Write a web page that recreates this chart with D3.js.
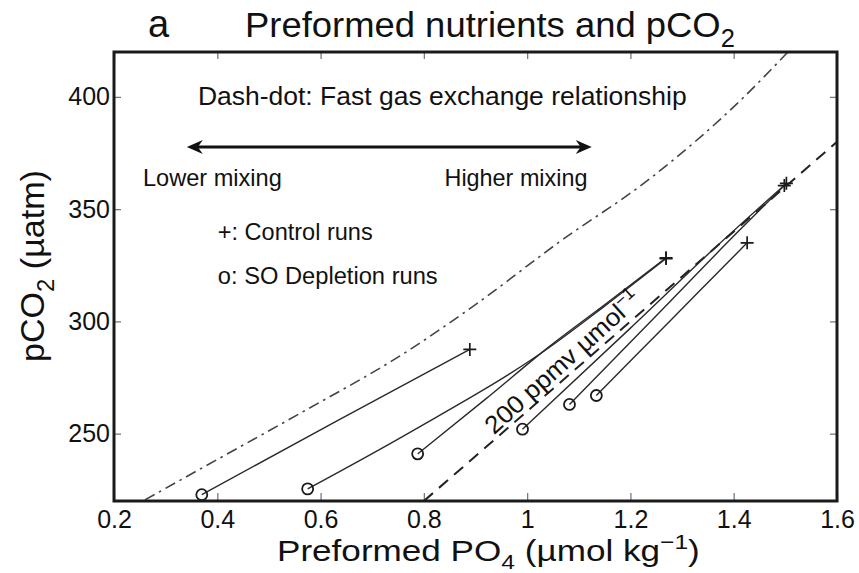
<!DOCTYPE html>
<html>
<head>
<meta charset="utf-8">
<script src="https://cdn.jsdelivr.net/npm/d3@7"></script>
<style>
  body { margin: 0; background: #fff; }
  svg { display: block; }
  text { font-family: "Liberation Sans", Arial, Helvetica, sans-serif; fill: #111; }
</style>
</head>
<body>
<svg id="chart" width="859" height="573"></svg>
<script>
// ---- Axis ticks ----
const xTicks = [0.2, 0.4, 0.6, 0.8, 1.0, 1.2, 1.4, 1.6];
const xTickLabels = ["0.2", "0.4", "0.6", "0.8", "1", "1.2", "1.4", "1.6"];
const yTicks = [250, 300, 350, 400];
const yTickLabels = ["250", "300", "350", "400"];

// ---- Model runs: [preformed PO4 (µmol/kg), pCO2 (µatm)] ----
// Each run starts at its SO depletion state (o) and ends at its control state (+)
const run1 = [[0.370, 222.8], [0.630, 255.5], [0.889, 287.5]];
const run2 = [[0.575, 225.4], [0.773, 250.6], [1.044, 288.6], [1.150, 306.8], [1.269, 328.0]];
const run3 = [[0.788, 241.0], [0.920, 265.5], [1.044, 289.0], [1.150, 307.4], [1.269, 328.3]];
const run4 = [[0.991, 252.0], [1.200, 297.0], [1.360, 332.0], [1.502, 361.5]];
const run5 = [[1.082, 263.0], [1.250, 302.5], [1.400, 338.0], [1.498, 360.5]];
const run6 = [[1.134, 267.0], [1.280, 301.0], [1.426, 335.0]];

// ---- Fast gas exchange relationship (dash-dot curve) ----
const fastGasPO4  = [0.26, 0.40, 0.56, 0.77, 0.90, 1.06, 1.24, 1.42, 1.505];
const fastGasPCO2 = [220.5, 238.5, 259, 287, 307.5, 335, 364, 400, 420];

// ---- 200 ppmv per µmol reference line (dashed) ----
const refPO4  = [0.8, 1.6];
const refPCO2 = [220, 380];

// ---- Layout ----
const M = { left: 114, right: 837, top: 52, bottom: 501 };
const x = d3.scaleLinear().domain([0.2, 1.6]).range([M.left, M.right]);
const y = d3.scaleLinear().domain([220, 420]).range([M.bottom, M.top]);

const svg = d3.select("#chart");
svg.append("rect").attr("width", 859).attr("height", 573).attr("fill", "#fff");

svg.append("defs").append("clipPath").attr("id", "plotClip")
  .append("rect")
  .attr("x", M.left).attr("y", M.top)
  .attr("width", M.right - M.left).attr("height", M.bottom - M.top);

// Text helper: draws text (with optional sub/superscripts) and fits it to a width
function label(parent, parts, o) {
  const g = parent.append("g")
    .attr("transform", `translate(${o.x0},${o.y0}) rotate(${o.rotate || 0})`);
  const t = g.append("text")
    .attr("font-size", o.size)
    .attr("text-anchor", o.anchor || "start");
  let shift = 0;
  parts.forEach(([s, kind]) => {
    const ts = t.append("tspan").text(s);
    const target = kind === "sub" ? o.size * 0.28 : kind === "sup" ? -o.size * 0.4 : 0;
    if (target - shift !== 0) ts.attr("dy", target - shift);
    shift = target;
    if (kind) ts.attr("font-size", o.size * 0.7);
  });
  if (o.width) {
    const w = t.node().getComputedTextLength();
    t.attr("transform", `scale(${o.width / w},1)`);
  }
  return t;
}

// ---- Ticks (inward, on all four sides) ----
function styleAxis(g) {
  g.select(".domain").remove();
  g.selectAll(".tick line").attr("stroke", "#7a7a7a").attr("stroke-width", 1.3);
  g.selectAll(".tick text").attr("fill", "#111").attr("font-size", 25)
    .attr("font-family", "Liberation Sans, Arial, sans-serif");
}
svg.append("g").attr("transform", `translate(0,${M.bottom})`)
  .call(d3.axisBottom(x).tickValues(xTicks).tickFormat((d, i) => xTickLabels[i])
    .tickSizeInner(-8).tickSizeOuter(0).tickPadding(9))
  .call(styleAxis);
svg.append("g").attr("transform", `translate(0,${M.top})`)
  .call(d3.axisTop(x).tickValues(xTicks).tickFormat("")
    .tickSizeInner(-7).tickSizeOuter(0))
  .call(styleAxis);
svg.append("g").attr("transform", `translate(${M.left},0)`)
  .call(d3.axisLeft(y).tickValues(yTicks).tickFormat((d, i) => yTickLabels[i])
    .tickSizeInner(-7).tickSizeOuter(0).tickPadding(4))
  .call(styleAxis);
svg.append("g").attr("transform", `translate(${M.right},0)`)
  .call(d3.axisRight(y).tickValues(yTicks).tickFormat("")
    .tickSizeInner(-7).tickSizeOuter(0))
  .call(styleAxis);

// ---- Curves ----
const plot = svg.append("g").attr("clip-path", "url(#plotClip)");
const line = d3.line().x(d => x(d[0])).y(d => y(d[1])).curve(d3.curveMonotoneX);

// Fast gas exchange (dash-dot)
plot.append("path")
  .datum(fastGasPO4.map((p, i) => [p, fastGasPCO2[i]]))
  .attr("d", line)
  .attr("fill", "none").attr("stroke", "#444").attr("stroke-width", 1.6)
  .attr("stroke-dasharray", "11,5,2.5,5");

// 200 ppmv µmol^-1 (dashed)
plot.append("path")
  .datum(refPO4.map((p, i) => [p, refPCO2[i]]))
  .attr("d", d3.line().x(d => x(d[0])).y(d => y(d[1])))
  .attr("fill", "none").attr("stroke", "#222").attr("stroke-width", 2)
  .attr("stroke-dasharray", "12,8");

// Model run trajectories
const runs = [run1, run2, run3, run4, run5, run6];
plot.selectAll("path.run").data(runs).join("path")
  .attr("class", "run")
  .attr("d", line)
  .attr("fill", "none").attr("stroke", "#2a2a2a").attr("stroke-width", 1.4);

// SO depletion runs (o) and control runs (+)
const marks = svg.append("g");
marks.selectAll("circle").data(runs.map(r => r[0])).join("circle")
  .attr("cx", d => x(d[0])).attr("cy", d => y(d[1])).attr("r", 5.5)
  .attr("fill", "none").attr("stroke", "#1a1a1a").attr("stroke-width", 1.8);
marks.selectAll("path.plus").data(runs.map(r => r[r.length - 1])).join("path")
  .attr("class", "plus")
  .attr("d", d => {
    const cx = x(d[0]), cy = y(d[1]), s = 6.5;
    return `M${cx - s},${cy}H${cx + s}M${cx},${cy - s}V${cy + s}`;
  })
  .attr("stroke", "#1a1a1a").attr("stroke-width", 1.7);

// ---- Plot box ----
svg.append("rect")
  .attr("x", M.left).attr("y", M.top)
  .attr("width", M.right - M.left).attr("height", M.bottom - M.top)
  .attr("fill", "none").attr("stroke", "#1a1a1a").attr("stroke-width", 3);

// ---- Annotations ----
const ann = svg.append("g");
label(ann, [["Dash-dot: Fast gas exchange relationship"]],
  { x0: x(0.3625), y0: y(396.4), size: 26, width: 489 });

// Mixing arrow
const arrowY = y(377.7), ax0 = x(0.341), ax1 = x(1.125);
ann.append("line").attr("x1", ax0 + 6).attr("x2", ax1 - 6)
  .attr("y1", arrowY).attr("y2", arrowY)
  .attr("stroke", "#111").attr("stroke-width", 3);
ann.append("path")
  .attr("d", `M${ax0},${arrowY} L${ax0 + 16},${arrowY - 7} L${ax0 + 11},${arrowY} L${ax0 + 16},${arrowY + 7} Z`)
  .attr("fill", "#111");
ann.append("path")
  .attr("d", `M${ax1},${arrowY} L${ax1 - 16},${arrowY - 7} L${ax1 - 11},${arrowY} L${ax1 - 16},${arrowY + 7} Z`)
  .attr("fill", "#111");

label(ann, [["Lower mixing"]], { x0: x(0.256), y0: y(360.3), size: 23, width: 139 });
label(ann, [["Higher mixing"]], { x0: x(0.840), y0: y(360.5), size: 23, width: 143 });
label(ann, [["+: Control runs"]], { x0: x(0.401), y0: y(336.2), size: 23, width: 155 });
label(ann, [["o: SO Depletion runs"]], { x0: x(0.401), y0: y(316.5), size: 23, width: 220 });

// Slope label along the reference line
label(ann, [["200 ppmv µmol"], ["−1", "sup"]],
  { x0: x(1.074) + 3, y0: y(280.4) + 3, size: 25, anchor: "middle", rotate: -42, width: 200 });

// ---- Titles ----
label(svg, [["a"]], { x0: 148, y0: 37, size: 38 });
label(svg, [["Preformed nutrients and pCO"], ["2", "sub"]],
  { x0: 245, y0: 37, size: 36, width: 490 });
label(svg, [["Preformed PO"], ["4", "sub"], [" (µmol kg"], ["−1", "sup"], [")"]],
  { x0: 277, y0: 561, size: 30, width: 423 });
label(svg, [["pCO"], ["2", "sub"], [" (µatm)"]],
  { x0: 44, y0: 266, size: 34, anchor: "middle", rotate: -90, width: 192 });
</script>
</body>
</html>
